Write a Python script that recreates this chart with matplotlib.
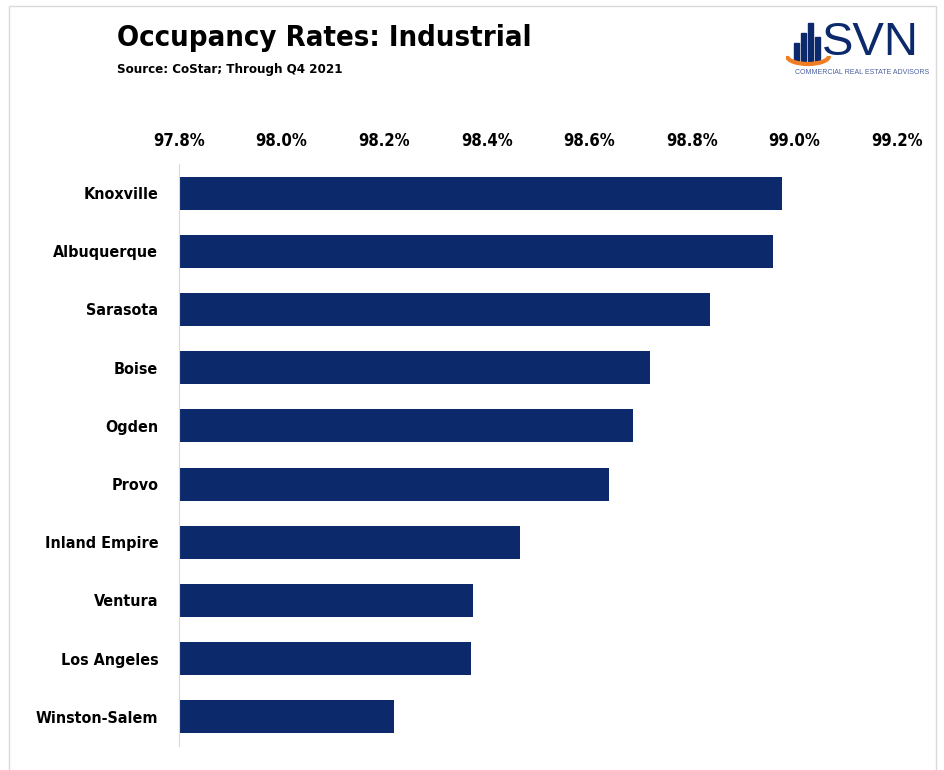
import matplotlib.pyplot as plt
from matplotlib.patches import Rectangle, Arc

# data
cities = ['Knoxville', 'Albuquerque', 'Sarasota', 'Boise', 'Ogden', 'Provo',
          'Inland Empire', 'Ventura', 'Los Angeles', 'Winston-Salem']
occupancy = [98.975, 98.959, 98.835, 98.719, 98.686, 98.639,
             98.464, 98.373, 98.369, 98.220]
ticks = [97.8, 98.0, 98.2, 98.4, 98.6, 98.8, 99.0, 99.2]

navy = '#0c2a6b'

# condensed bold look
plt.rcParams['font.family'] = ['DejaVu Sans']
plt.rcParams['font.stretch'] = 'condensed'

fig = plt.figure(figsize=(9.44, 7.7), dpi=100)

# light frame around the slide
fig.patches.append(Rectangle((9 / 944, -0.01), 927 / 944, 1 - 6 / 770 + 0.01,
                             transform=fig.transFigure, fill=False,
                             edgecolor='#d9d9d9', linewidth=1))

ax = fig.add_axes([179 / 944, 1 - 746 / 770, (897 - 179) / 944, (746 - 164) / 770])
y = list(range(len(cities)))
ax.barh(y, [v - ticks[0] for v in occupancy], left=ticks[0], height=0.57, color=navy)
ax.set_ylim(len(cities) - 0.5, -0.5)
ax.set_xlim(ticks[0], ticks[-1])
ax.set_yticks(y)
ax.set_yticklabels(cities, fontsize=11.5, fontweight='bold')
ax.set_xticks(ticks)
ax.set_xticklabels([f'{t:.1f}%' for t in ticks], fontsize=12, fontweight='bold')
ax.xaxis.tick_top()
ax.tick_params(axis='both', length=0)
ax.tick_params(axis='x', pad=10)
ax.tick_params(axis='y', pad=15)
for s in ['top', 'right', 'bottom']:
    ax.spines[s].set_visible(False)
ax.spines['left'].set_color('#d9d9d9')

# title block
fig.text(117 / 944, 1 - 38 / 770, 'Occupancy Rates: Industrial', fontsize=21,
         fontweight='bold', va='center', ha='left')
fig.text(117 / 944, 1 - 70 / 770, 'Source: CoStar; Through Q4 2021', fontsize=9.5,
         fontweight='bold', va='center', ha='left')

# simple logo
lax = fig.add_axes([786 / 944, 1 - 78 / 770, 150 / 944, 60 / 770])
lax.set_xlim(0, 150)
lax.set_ylim(0, 60)
lax.axis('off')
for x0, h in [(8, 18), (15, 28), (22, 38), (29, 24)]:
    lax.add_patch(Rectangle((x0, 17), 5, h, color=navy))
lax.add_patch(Arc((22, 22), 42, 16, theta1=180, theta2=360, color='#f07d22', lw=3))
lax.text(36, 35, 'SVN', fontsize=34, color=navy, va='center', ha='left',
         family=['Liberation Sans'], stretch='normal')
lax.text(76, 6, 'COMMERCIAL REAL ESTATE ADVISORS', fontsize=5, color='#4a5fa0',
         va='center', ha='center', family=['Liberation Sans'], stretch='normal')

fig.savefig('out.png', dpi=100)
